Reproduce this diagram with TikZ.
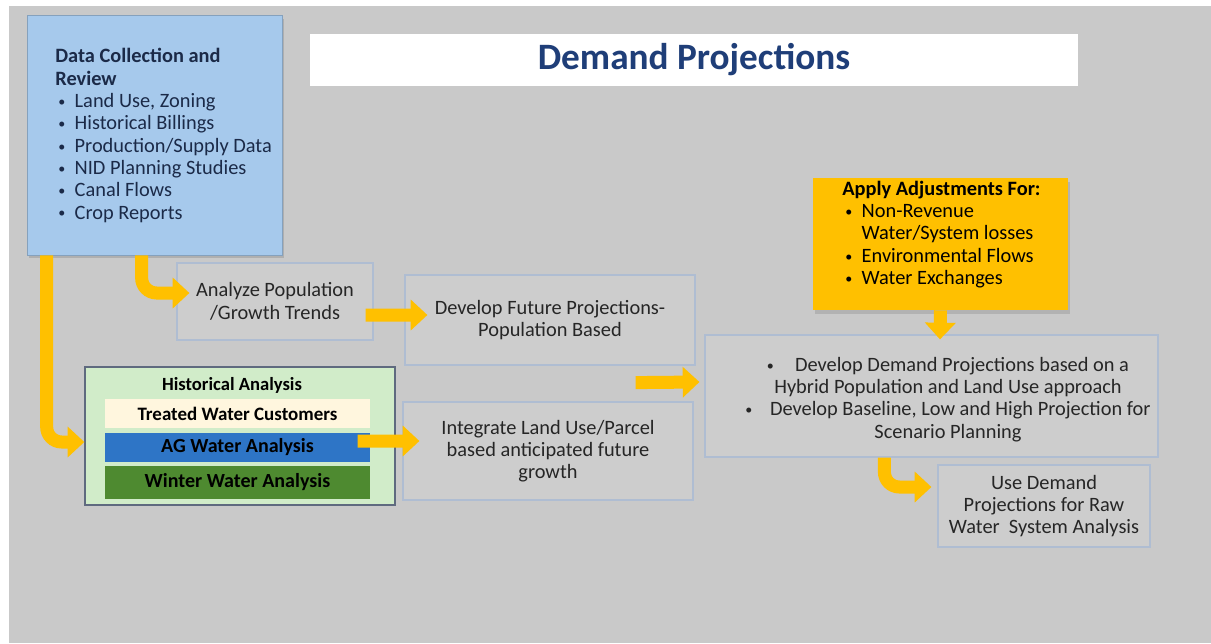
\documentclass[tikz,border=0pt]{standalone}
\usepackage{fontspec}
\setmainfont{Carlito}
\usetikzlibrary{arrows.meta,shadows}
\newcommand{\bdot}{\raisebox{0.12ex}{\fontsize{8}{8}\selectfont\textbullet}}
\newcommand{\blt}{\hspace*{1.7pt}\makebox[9.3pt][l]{\bdot}}
\newcommand{\regsize}{\fontsize{11.6}{12.7}\selectfont}

\begin{document}
\begin{tikzpicture}[x=0.02cm,y=-0.02cm,
  pbox/.style={draw=edge,fill=boxfill,line width=0.7pt,inner sep=0pt,align=center,font=\regsize,text=ink},
  band/.style={inner sep=0pt,minimum width=5.30cm,font=\fontsize{10.8}{12.7}\selectfont\bfseries,text=black},
  words/.style={inner sep=0pt,font=\regsize,text=ink},
  flow/.style={draw=gold,line width=7.4pt,rounded corners=0.3cm,-{Triangle[width=17pt,length=9.5pt]}}]
\definecolor{paper}{HTML}{C9C9C9}
\definecolor{boxfill}{HTML}{CDCDCD}
\definecolor{edge}{HTML}{AFBDD2}
\definecolor{ink}{HTML}{262626}
\definecolor{navy}{HTML}{1B2A48}
\definecolor{headblue}{HTML}{1F3E78}
\definecolor{sky}{HTML}{A6C9EC}
\definecolor{gold}{HTML}{FFC000}
\definecolor{mint}{HTML}{D1ECC9}
\definecolor{cream}{HTML}{FFF6DE}
\definecolor{agblue}{HTML}{2E75C6}
\definecolor{leaf}{HTML}{4E8A30}
\useasboundingbox (0,0) rectangle (1211,643);
\fill[white] (0,0) rectangle (1211,643);
\fill[paper] (9,6) rectangle (1211,643);
% boxes
\node[draw=sky!80!black,fill=sky,line width=0.4pt,minimum width=5.10cm,minimum height=4.80cm,
  drop shadow={shadow xshift=1pt,shadow yshift=-2pt,opacity=0.35}] (data) at (154.5,135) {};
\node[fill=white,inner sep=0pt,minimum width=15.36cm,minimum height=1.04cm,
  font=\fontsize{21.2}{24}\selectfont\bfseries,text=headblue] (title) at (694,60) {Demand Projections};
\node[pbox,minimum width=3.92cm,minimum height=1.54cm] (ana) at (275,301.5) {Analyze Population\\/Growth Trends};
\node[pbox,minimum width=5.80cm,minimum height=1.80cm] (fut) at (550,320) {Develop Future Projections-\\Population Based};
\node[draw=navy!70,fill=mint,line width=0.8pt,minimum width=6.20cm,minimum height=2.76cm] (hist) at (240,436) {};
\node[band,fill=cream,minimum height=0.58cm] (treated) at (237.5,413.5) {Treated Water Customers};
\node[band,fill=agblue,minimum height=0.58cm,font=\fontsize{11.4}{12.7}\selectfont\bfseries] (ag) at (237.5,447.5) {AG Water Analysis};
\node[band,fill=leaf,minimum height=0.66cm,font=\fontsize{11.4}{12.7}\selectfont\bfseries] (winter) at (237.5,482.5) {Winter Water Analysis};
\node[pbox,minimum width=5.80cm,minimum height=1.96cm] (integ) at (548,451) {Integrate Land Use/Parcel\\based anticipated future\\growth};
\node[fill=gold,minimum width=5.10cm,minimum height=2.64cm,
  drop shadow={shadow xshift=1pt,shadow yshift=-2pt,opacity=0.3}] (adj) at (940.5,244) {};
\node[pbox,minimum width=9.06cm,minimum height=2.44cm] (dem) at (931.5,396) {};
\node[pbox,minimum width=4.24cm,minimum height=1.64cm] (use) at (1044,506) {Use Demand\\Projections for Raw\\Water\ \ System Analysis};
% texts
\node[words,anchor=west,align=left,text=navy] (dataText) at (55,135.5)
  {\textbf{Data Collection and}\\\textbf{Review}\\\blt Land Use, Zoning\\\blt Historical Billings\\\blt Production/Supply Data\\\blt NID Planning Studies\\\blt Canal Flows\\\blt Crop Reports};
\node[words,font=\fontsize{10.6}{12.7}\selectfont\bfseries,text=black] (histTitle) at (232,385) {Historical Analysis};
\node[words,anchor=west,align=left,text=black] (adjText) at (842,234.5)
  {\textbf{Apply Adjustments For:}\\\blt Non-Revenue\\\hspace*{11pt}Water/System losses\\\blt Environmental Flows\\\blt Water Exchanges};
\node[words,align=center] (demText) at (948,399.5)
  {\bdot\hspace{12pt}Develop Demand Projections based on a\\Hybrid Population and Land Use approach\\\bdot\hspace{10pt}Develop Baseline, Low and High Projection for\\Scenario Planning};
% arrows
\draw[flow] ([xshift=0.4cm]data.south west) |- ([yshift=-0.12cm]hist.west);
\draw[flow] ([xshift=2.3cm]data.south west) |- ([xshift=0.26cm,yshift=0.17cm]ana.west);
\draw[flow] ([xshift=-0.16cm,yshift=-0.27cm]ana.east) -- ([xshift=0.46cm,yshift=0.1cm]fut.west);
\draw[flow] ([xshift=-0.76cm,yshift=-0.1cm]hist.east) -- ([xshift=0.34cm,yshift=0.2cm]integ.west);
\draw[flow] ([xshift=-1.2cm,yshift=-0.34cm]fut.south east) -- ([xshift=-0.1cm,yshift=0.28cm]dem.west);
\draw[flow] (adj.south) -- ([xshift=0.17cm,yshift=-0.1cm]dem.north);
\draw[flow] ([xshift=3.6cm]dem.south west) |- ([xshift=-0.12cm,yshift=0.38cm]use.west);
\end{tikzpicture}
\end{document}
